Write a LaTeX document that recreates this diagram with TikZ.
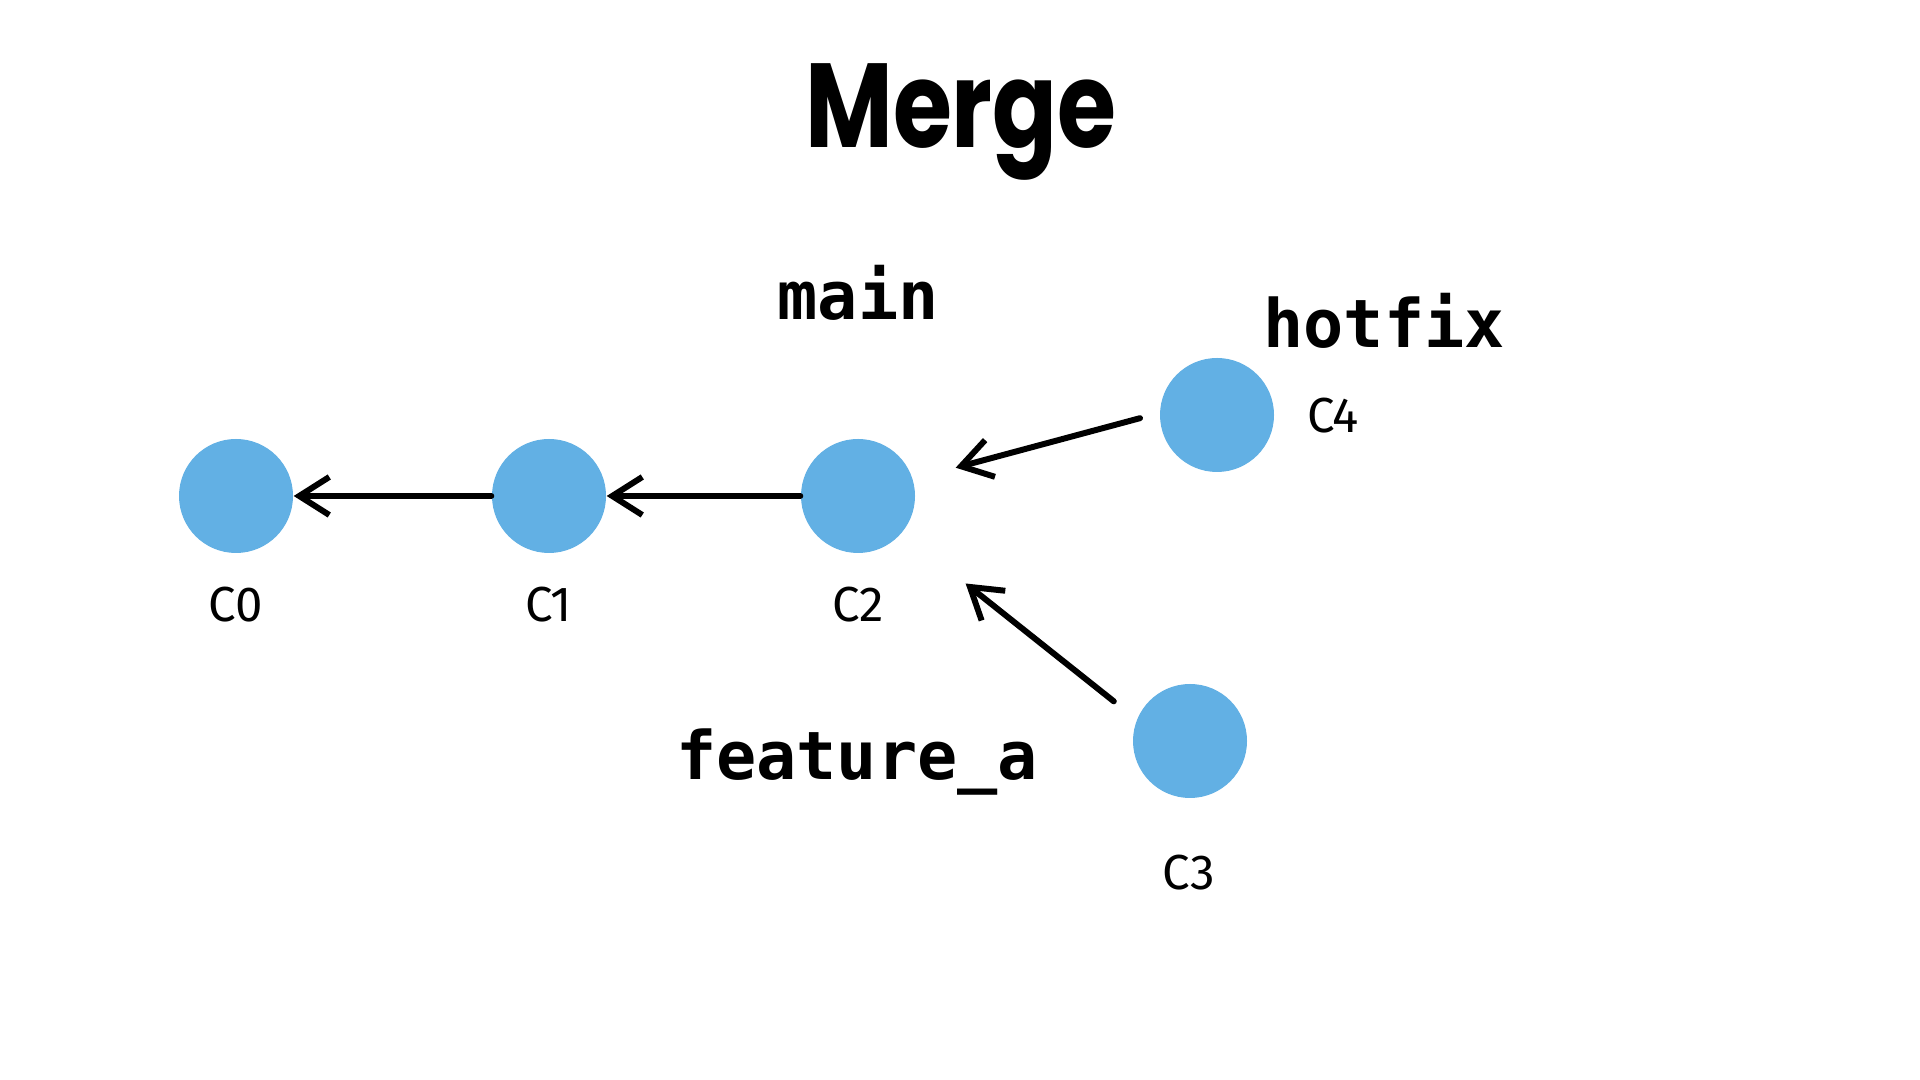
\documentclass[tikz,border=0pt]{standalone}
\usepackage{fontspec}
\setmainfont{Fira Sans}
\setmonofont{DejaVu Sans Mono}
\newfontfamily\titlefont{Poppins}
\usetikzlibrary{arrows.meta}
\definecolor{commitblue}{HTML}{62B0E4}

\begin{document}
\begin{tikzpicture}[
  commit/.style={circle, fill=commitblue, minimum size=1.14cm, inner sep=0},
  clabel/.style={font=\fontsize{14}{16}\selectfont},
  branch/.style={font=\ttfamily\bfseries\fontsize{19}{22}\selectfont},
  arr/.style={line width=1.7pt, line cap=round, -{Straight Barb[length=0.3cm,width=0.38cm]}}
]
\useasboundingbox[fill=white] (0,0) rectangle (19.2,10.8);
\node[font=\titlefont\bfseries\fontsize{34}{40}\selectfont, xscale=0.8] (title) at (9.61,9.58) {Merge};
\foreach \n/\x in {0/2.36, 1/5.49, 2/8.58} {
 \node[commit] (C\n) at (\x,5.84) {};
 \node[clabel] (lC\n) at (\x,4.75) {C\n};
}
\node[commit] (C4) at (12.17,6.65) {};
\node[clabel] (lC4) at (13.33,6.64) {C4};
\node[commit] (C3) at (11.90,3.39) {};
\node[clabel] (lC3) at (11.89,2.07) {C3};
\node[branch] (main) at (8.58,7.87) {main};
\node[branch] (hotfix) at (13.84,7.59) {hotfix};
\node[branch] (feat) at (8.57,3.18) {feature\_a};
\draw[arr] (C1) -- (C0);
\draw[arr] (C2) -- (C1);
\draw[arr, shorten <=0.2cm, shorten >=0.44cm] (C4.178) -- (C2.17);
\draw[arr, shorten <=0.29cm, shorten >=0.81cm] (C3.158) -- (C2.-40);
\end{tikzpicture}
\end{document}
